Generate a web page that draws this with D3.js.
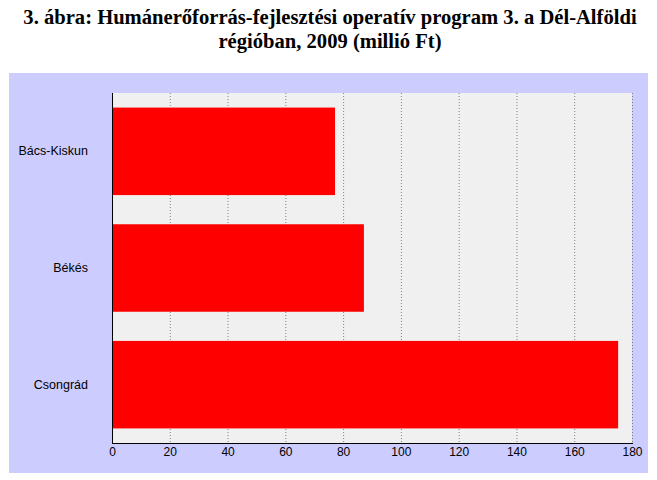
<!DOCTYPE html>
<html><head><meta charset="utf-8">
<script src="https://cdn.jsdelivr.net/npm/d3@7"></script>
<style>body{margin:0;background:#fff}svg{display:block}</style>
</head><body>
<script>
const categories = ["Bács-Kiskun", "Békés", "Csongrád"];
const values = [77.2, 87.2, 175.2];
const xTicks = [0, 20, 40, 60, 80, 100, 120, 140, 160, 180];
const titleLines = ["3. ábra: Humánerőforrás-fejlesztési operatív program 3. a Dél-Alföldi", "régióban, 2009 (millió Ft)"];

(function () {
const W = 657, H = 480;
const svg = d3.select("body").append("svg").attr("width", W).attr("height", H);

svg.append("rect").attr("x", 9).attr("y", 73).attr("width", 639).attr("height", 400).attr("fill", "#ccccff");

const pL = 112, pR = 632, pT = 93, pB = 443;
const x = d3.scaleLinear().domain([0, 180]).range([pL, pR]);
const y = d3.scaleBand().domain(categories).range([pT, pB]).paddingInner(0.25).paddingOuter(0.125);

svg.append("rect").attr("x", pL).attr("y", pT).attr("width", pR - pL).attr("height", pB - pT).attr("fill", "#f0f0f0");

svg.append("g").selectAll("line").data(xTicks.slice(1)).join("line")
  .attr("x1", d => x(d) + 0.5).attr("x2", d => x(d) + 0.5)
  .attr("y1", pT).attr("y2", pB)
  .attr("stroke", "#808080").attr("stroke-dasharray", "1,2");

svg.append("g").selectAll("rect").data(values).join("rect")
  .attr("x", pL).attr("y", (d, i) => y(categories[i]))
  .attr("width", d => x(d) - pL).attr("height", y.bandwidth())
  .attr("fill", "#ff0000");

svg.append("line").attr("x1", pL + 0.5).attr("x2", pL + 0.5).attr("y1", pT).attr("y2", pB + 1).attr("stroke", "#000");
svg.append("line").attr("x1", pL).attr("x2", pR + 1).attr("y1", pB + 0.5).attr("y2", pB + 0.5).attr("stroke", "#000");

const xAxis = svg.append("g").attr("transform", `translate(0,${pB})`)
  .call(d3.axisBottom(x).tickValues(xTicks).tickSize(0).tickPadding(4));
xAxis.select(".domain").remove();
xAxis.selectAll("text").attr("font-family", "Liberation Sans, Arial, sans-serif").attr("font-size", 12).attr("fill", "#000");

const yAxis = svg.append("g").attr("transform", `translate(${pL},0)`)
  .call(d3.axisLeft(y).tickSize(0).tickPadding(24));
yAxis.select(".domain").remove();
yAxis.selectAll("text").attr("font-family", "Liberation Sans, Arial, sans-serif").attr("font-size", 12.5).attr("fill", "#000").attr("dy", "0.32em");

svg.append("g").selectAll("text").data(titleLines).join("text")
  .attr("x", 330).attr("y", (d, i) => 24 + i * 24)
  .attr("text-anchor", "middle")
  .attr("font-family", "Liberation Serif, Times New Roman, serif")
  .attr("font-weight", "bold").attr("font-size", 20.6)
  .text(d => d);
})();
</script>
</body></html>
